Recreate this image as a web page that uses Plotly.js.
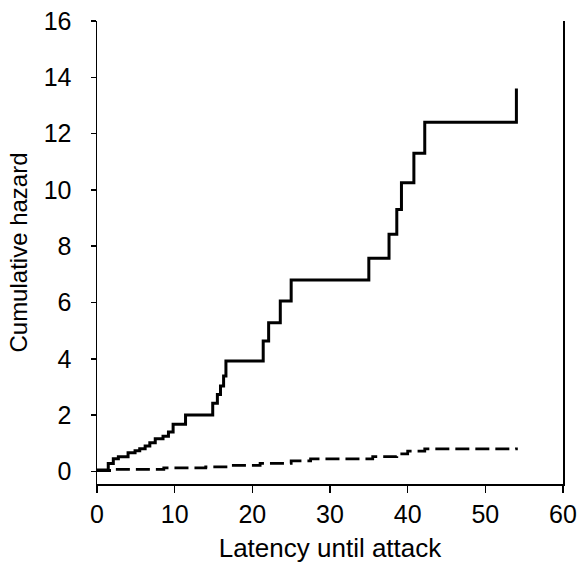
<!DOCTYPE html>
<html>
<head>
<meta charset="utf-8">
<script src="https://cdn.plot.ly/plotly-3.0.1.min.js"></script>
<style>html,body{margin:0;padding:0;background:#fff;}#chart{width:580px;height:574px;}</style>
</head>
<body>
<div id="chart"></div>
<script>
// Solid curve (step function): time of each jump and hazard value after it
const solidTime = [0, 1.45, 2.1, 2.75, 4.0, 4.9, 5.5, 6.2, 6.8, 7.5, 8.5, 9.2, 9.8, 11.4, 14.9, 15.5, 15.9, 16.3, 16.6, 21.4, 22.1, 23.6, 25.0, 35.0, 37.6, 38.6, 39.2, 40.8, 42.2, 54.0];
const solidHazard = [0.05, 0.28, 0.45, 0.52, 0.66, 0.73, 0.8, 0.9, 1.02, 1.16, 1.25, 1.4, 1.67, 2.0, 2.42, 2.73, 3.03, 3.39, 3.92, 4.63, 5.28, 6.05, 6.8, 7.57, 8.42, 9.3, 10.25, 11.3, 12.4, 13.6];
// Dashed curve (step function)
const dashedTime = [0, 2.4, 8.6, 14.0, 17.2, 21.0, 25.0, 27.5, 35.5, 38.6, 40.0, 42.2, 54.0];
const dashedHazard = [0.03, 0.07, 0.12, 0.16, 0.21, 0.28, 0.37, 0.44, 0.52, 0.62, 0.72, 0.8, 0.85];

const xTicks = [0, 10, 20, 30, 40, 50, 60];
const yTicks = [0, 2, 4, 6, 8, 10, 12, 14, 16];

const font = 'Liberation Sans, Arial, sans-serif';

const traces = [
  {x: solidTime, y: solidHazard, type: 'scatter', mode: 'lines',
   line: {shape: 'hv', color: '#000', width: 3}, hoverinfo: 'none'},
  {x: dashedTime, y: dashedHazard, type: 'scatter', mode: 'lines',
   line: {shape: 'hv', color: '#000', width: 2.8, dash: '14px,6px'}, hoverinfo: 'none'}
];

const layout = {
  width: 580, height: 574,
  margin: {l: 97, r: 17, t: 21, b: 90},
  paper_bgcolor: '#fff', plot_bgcolor: '#fff',
  showlegend: false,
  font: {family: font, color: '#000', size: 25},
  xaxis: {
    range: [0, 60], tickvals: xTicks, ticktext: xTicks.map(String),
    ticks: 'outside', ticklen: 7, tickwidth: 1.5, tickcolor: '#000',
    showline: true, linecolor: '#000', linewidth: 1.5,
    showgrid: false, zeroline: false,
    tickfont: {family: font, size: 25, color: '#000'},
    title: {text: 'Latency until attack', font: {family: font, size: 26, color: '#000'}, standoff: 12}
  },
  yaxis: {
    range: [-0.45, 16], tickvals: yTicks, ticktext: yTicks.map(String),
    ticks: 'outside', ticklen: 5, tickwidth: 1.5, tickcolor: '#000',
    ticklabelstandoff: 14,
    showline: true, linecolor: '#000', linewidth: 1.5, mirror: true,
    showgrid: false, zeroline: false,
    tickfont: {family: font, size: 25, color: '#000'},
    title: {text: 'Cumulative hazard', font: {family: font, size: 24, color: '#000'}, standoff: 9}
  }
};

Plotly.newPlot('chart', traces, layout, {staticPlot: true, displayModeBar: false});
</script>
</body>
</html>
